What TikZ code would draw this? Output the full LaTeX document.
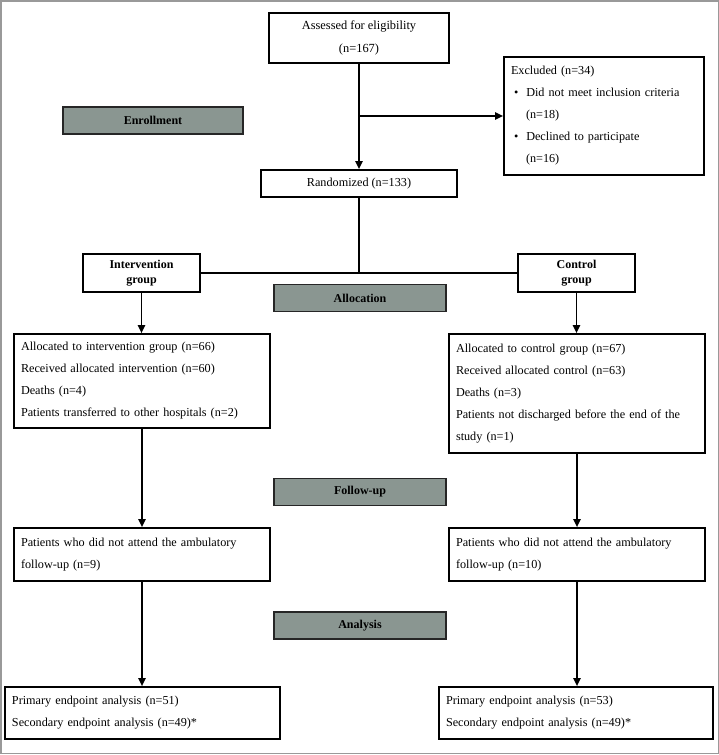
\documentclass[tikz,border=0pt]{standalone}
\usepackage{fontspec}
\setmainfont{Liberation Serif}
\usetikzlibrary{arrows.meta}
\definecolor{phase}{RGB}{138,150,145}
\begin{document}
\begin{tikzpicture}[x=1pt,y=-1pt,
  box/.style={draw=black,line width=1.6pt,rectangle,inner sep=0pt,font=\fontsize{12.2}{22}\selectfont},
  phasebox/.style={draw=black!85,line width=1.6pt,fill=phase,rectangle,minimum width=172pt,minimum height=27pt,inner sep=0pt,font=\fontsize{12}{13}\selectfont\bfseries},
  grp/.style={box,align=center,minimum width=117pt,minimum height=38pt,font=\fontsize{12}{15.5}\selectfont\bfseries},
  arr/.style={line width=1.8pt,-{Triangle[length=8pt,width=7pt]}},
  ln/.style={line width=1.8pt}]
\useasboundingbox (0,0) rectangle (719,755);
\draw[gray!80,line width=1.5pt] (0.75,0.75) rectangle (718.25,753.5);

\node[box,align=center,minimum width=180pt,minimum height=50pt,font=\fontsize{12.4}{23}\selectfont] (assess) at (359,38) {Assessed for eligibility\\(n=167)};
\node[box,align=left,minimum width=200pt,minimum height=118pt,text width=186pt] (excl) at (604,116)
  {Excluded (n=34)\\
   \hspace*{3pt}\textbullet\hspace{8pt}Did not meet inclusion criteria\\
   \hspace*{15pt}(n=18)\\
   \hspace*{3pt}\textbullet\hspace{8pt}Declined to participate\\
   \hspace*{15pt}(n=16)};
\node[phasebox,minimum width=180pt] (enr) at (153,120.5) {Enrollment};
\node[box,minimum width=196pt,minimum height=27pt] (rand) at (359,183.5) {Randomized (n=133)};

\node[grp] (interv) at (141.5,273) {Intervention\\group};
\node[grp] (ctrl) at (576.5,273) {Control\\group};
\node[phasebox] (alloc) at (360,298) {Allocation};

\node[box,align=left,minimum width=256pt,minimum height=94pt,text width=242pt] (la) at (142,381)
  {Allocated to intervention group (n=66)\\
   Received allocated intervention (n=60)\\
   Deaths (n=4)\\
   Patients transferred to other hospitals (n=2)};
\node[box,align=left,minimum width=256pt,minimum height=119pt,text width=242pt] (ra) at (577,393.5)
  {Allocated to control group (n=67)\\
   Received allocated control (n=63)\\
   Deaths (n=3)\\
   Patients not discharged before the end of the\\
   study (n=1)};

\node[phasebox] (fu) at (360,492) {Follow-up};
\node[box,align=left,minimum width=256pt,minimum height=53pt,text width=242pt] (lf) at (142,554.5)
  {Patients who did not attend the ambulatory\\follow-up (n=9)};
\node[box,align=left,minimum width=256pt,minimum height=53pt,text width=242pt] (rf) at (577,554.5)
  {Patients who did not attend the ambulatory\\follow-up (n=10)};

\node[phasebox] (ana) at (360,625.5) {Analysis};
\node[box,align=left,minimum width=275pt,minimum height=52pt,text width=261pt] (lan) at (142.5,713)
  {Primary endpoint analysis (n=51)\\Secondary endpoint analysis (n=49)*};
\node[box,align=left,minimum width=274pt,minimum height=52pt,text width=260pt] (ran) at (576,713)
  {Primary endpoint analysis (n=53)\\Secondary endpoint analysis (n=49)*};

\draw[arr] (assess.south) -- (rand.north);
\coordinate (br) at (assess.south |- excl.west);
\draw[arr] (br) -- (excl.west);
\draw[ln] (rand.south) -- (rand.south |- interv.east);
\draw[ln] (interv.east) -- (ctrl.west);
\draw[arr] (interv.south) -- (interv.south |- la.north);
\draw[arr] (ctrl.south) -- (ctrl.south |- ra.north);
\draw[arr] (la.south) -- (la.south |- lf.north);
\draw[arr] (ra.south) -- (ra.south |- rf.north);
\draw[arr] (lf.south) -- (lf.south |- lan.north);
\draw[arr] (rf.south) -- (rf.south |- ran.north);
\end{tikzpicture}
\end{document}
